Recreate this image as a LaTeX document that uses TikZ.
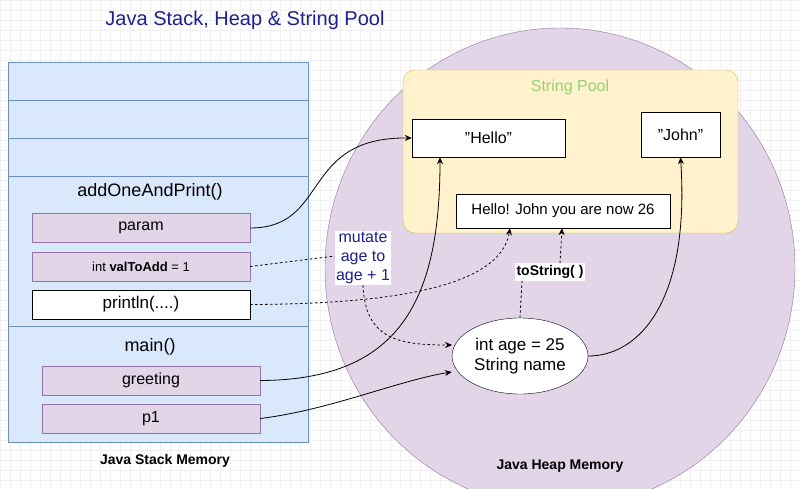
\documentclass[tikz,border=0pt]{standalone}
\usepackage{fontspec}
\setmainfont{Liberation Sans}
\usetikzlibrary{arrows.meta,shapes.geometric}
\definecolor{stackfill}{HTML}{DAE8FC}\definecolor{stackline}{HTML}{6C8EBF}
\definecolor{purfill}{HTML}{E1D5E7}\definecolor{purline}{HTML}{9673A6}
\definecolor{poolfill}{HTML}{FFF2CC}\definecolor{poolline}{HTML}{D6B656}
\definecolor{titleblue}{HTML}{1F1F8F}\definecolor{poolgreen}{HTML}{97D077}
\begin{document}
\begin{tikzpicture}[x=1pt,y=-1pt,
  sbox/.style={draw=purline,fill=purfill,minimum width=218pt,minimum height=29pt,inner sep=0pt,font=\fontsize{16}{18}\selectfont},
  wbox/.style={draw=black,fill=white,inner sep=0pt,font=\fontsize{16}{18}\selectfont},
  conn/.style={-{Stealth[length=7pt,width=6pt]},line width=0.8pt},
  dconn/.style={conn,dashed,dash pattern=on 2.5pt off 2.5pt}]
\useasboundingbox (0,0) rectangle (800,489);
\fill[white] (0,0) rectangle (800,489);
\draw[black!6,step=10pt] (0,0) grid (800,489);
\node[font=\fontsize{20}{24}\selectfont,text=titleblue] (title) at (245,20) {Java Stack, Heap \& String Pool};
% stack
\draw[stackline,fill=stackfill] (8,62) rectangle (308,442);
\foreach \y in {100,138,176,326} \draw[stackline] (8,\y) -- (308,\y);
\node[font=\fontsize{18}{20}\selectfont] (aop) at (150,192) {addOneAndPrint()};
\node[sbox] (param) at (141,228) {param};
\node[sbox,font=\fontsize{13}{15}\selectfont] (val) at (141,266.5) {int \textbf{valToAdd} = 1};
\node[sbox,draw=black,fill=white,font=\fontsize{17}{19}\selectfont] (println) at (141,304.5) {println(....)};
\node[font=\fontsize{18}{20}\selectfont] (main) at (150,347) {main()};
\node[sbox] (greet) at (151,380.5) {greeting};
\node[sbox] (p1) at (151,418.5) {p1};
\node[font=\bfseries\fontsize{14}{16}\selectfont] (stacklbl) at (165,461) {Java Stack Memory};
% heap
\draw[purline,fill=purfill] (560,268) ellipse [x radius=235, y radius=240];
\node[font=\bfseries\fontsize{14}{16}\selectfont] (heaplbl) at (560,466) {Java Heap Memory};
\draw[poolline,fill=poolfill,rounded corners=12pt] (403,70) rectangle (738,233);
\node[text=poolgreen,font=\fontsize{16}{18}\selectfont] (poollbl) at (570,87) {String Pool};
\node[wbox,minimum width=153pt,minimum height=38pt] (hello) at (488.5,138) {\symbol{34}Hello\symbol{34}};
\node[wbox,minimum width=79pt,minimum height=45pt] (john) at (680.5,134.5) {\symbol{34}John\symbol{34}};
\node[wbox,minimum width=214pt,minimum height=34pt,font=\fontsize{15}{17}\selectfont] (msg) at (563,211) {Hello! John you are now 26};
\node[draw=black,fill=white,ellipse,minimum width=136pt,minimum height=76pt,inner sep=0pt,align=center,font=\fontsize{17}{20}\selectfont] (obj) at (520,356) {int age = 25\\String name};
\node[fill=white,text=titleblue,align=center,inner sep=1pt,font=\fontsize{16}{19}\selectfont] (mut) at (363,258) {mutate\\age to\\age + 1};
\node[fill=white,inner sep=2pt,font=\bfseries\fontsize{14}{16}\selectfont] (tostr) at (550,272) {toString( )};
% connectors
\draw[conn] (param.east) .. controls (330,228) and (300,137) .. (hello.west);
\draw[conn] (greet.east) .. controls (400,380) and (440,300) .. (hello.south west -| 440,157) ;
\draw[conn] (p1.east) .. controls (330,410) and (400,380) .. (obj.west |- 0,372);
\draw[conn] (obj.east) .. controls (640,356) and (690,300) .. (john.south);
\draw[dashed,dash pattern=on 2.5pt off 2.5pt,line width=0.8pt] (val.east) -- (mut.west |- 0,256);
\draw[dconn] (mut.south) .. controls (365,340) and (400,345) .. (452,345);
\draw[dconn] (println.east) .. controls (380,304) and (500,290) .. (msg.south -| 510,228);
\draw[dashed,dash pattern=on 2.5pt off 2.5pt,line width=0.8pt] (obj.north -| 520,318) -- (tostr.south -| 522,280);
\draw[dconn] (tostr.north -| 560,264) -- (msg.south -| 562,228);
\end{tikzpicture}
\end{document}
